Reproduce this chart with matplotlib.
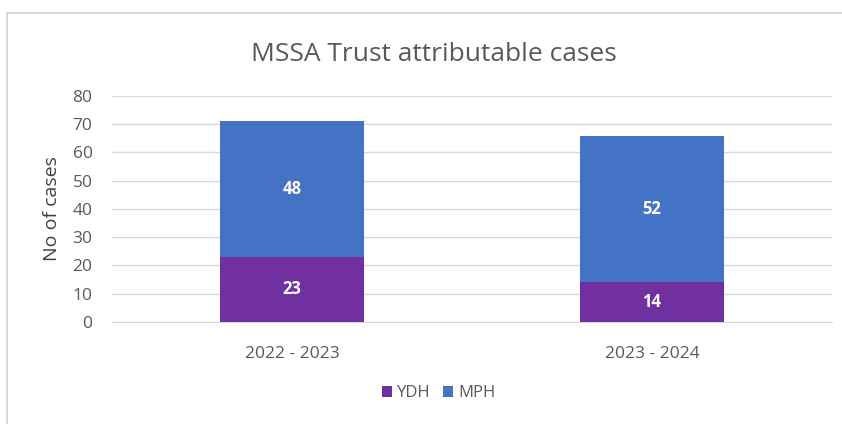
import numpy as np
import matplotlib.pyplot as plt

# chart data
periods = ['2022 - 2023', '2023 - 2024']
ydh = [23, 14]
mph = [48, 52]
series_names = ['YDH', 'MPH']
series_colors = ['#7030A0', '#4472C4']

plt.rcParams['font.family'] = ['Open Sans', 'DejaVu Sans']

fig = plt.figure(figsize=(8.42, 4.24), dpi=100)
ax = fig.add_axes([0.133, 0.2406, 0.855, 0.533])

x = np.arange(len(periods))
width = 0.4
b1 = ax.bar(x, ydh, width, color=series_colors[0], label=series_names[0], zorder=3)
b2 = ax.bar(x, mph, width, bottom=ydh, color=series_colors[1], label=series_names[1], zorder=3)

# value labels inside the bars
for bars in (b1, b2):
    ax.bar_label(bars, label_type='center', color='white', fontsize=12,
                 fontweight='bold')

ax.set_xlim(-0.5, 1.5)
ax.set_ylim(0, 80)
ax.set_yticks(range(0, 81, 10))
ax.set_xticks(x)
ax.set_xticklabels(periods)
ax.tick_params(axis='both', length=0, labelsize=12.5, colors='#595959')
ax.tick_params(axis='x', pad=17)
ax.tick_params(axis='y', pad=14)
ax.grid(axis='y', color='#d9d9d9', linewidth=1, zorder=0)
for side in ['top', 'right', 'left']:
    ax.spines[side].set_visible(False)
ax.spines['bottom'].set_color('#d9d9d9')

ax.set_ylabel('No of cases', fontsize=14, color='#404040', labelpad=8)

fig.text(0.515, 0.872, 'MSSA Trust attributable cases', ha='center', va='center',
         fontsize=19, color='#595959')

fig.legend(handles=[b1, b2], labels=series_names, loc='center',
           bbox_to_anchor=(0.521, 0.072), ncol=2, frameon=False, fontsize=12,
           handlelength=0.6, handleheight=0.6, handletextpad=0.35,
           columnspacing=0.7, labelcolor='#595959')

# outer chart frame (top and left edges visible in the crop)
fig.add_artist(plt.Line2D([0.0085, 0.0085], [0, 0.97], color='#d9d9d9',
                          linewidth=1.5, transform=fig.transFigure))
fig.add_artist(plt.Line2D([0.0085, 1.0], [0.97, 0.97], color='#d9d9d9',
                          linewidth=1.5, transform=fig.transFigure))

fig.savefig('out.png', dpi=100)
